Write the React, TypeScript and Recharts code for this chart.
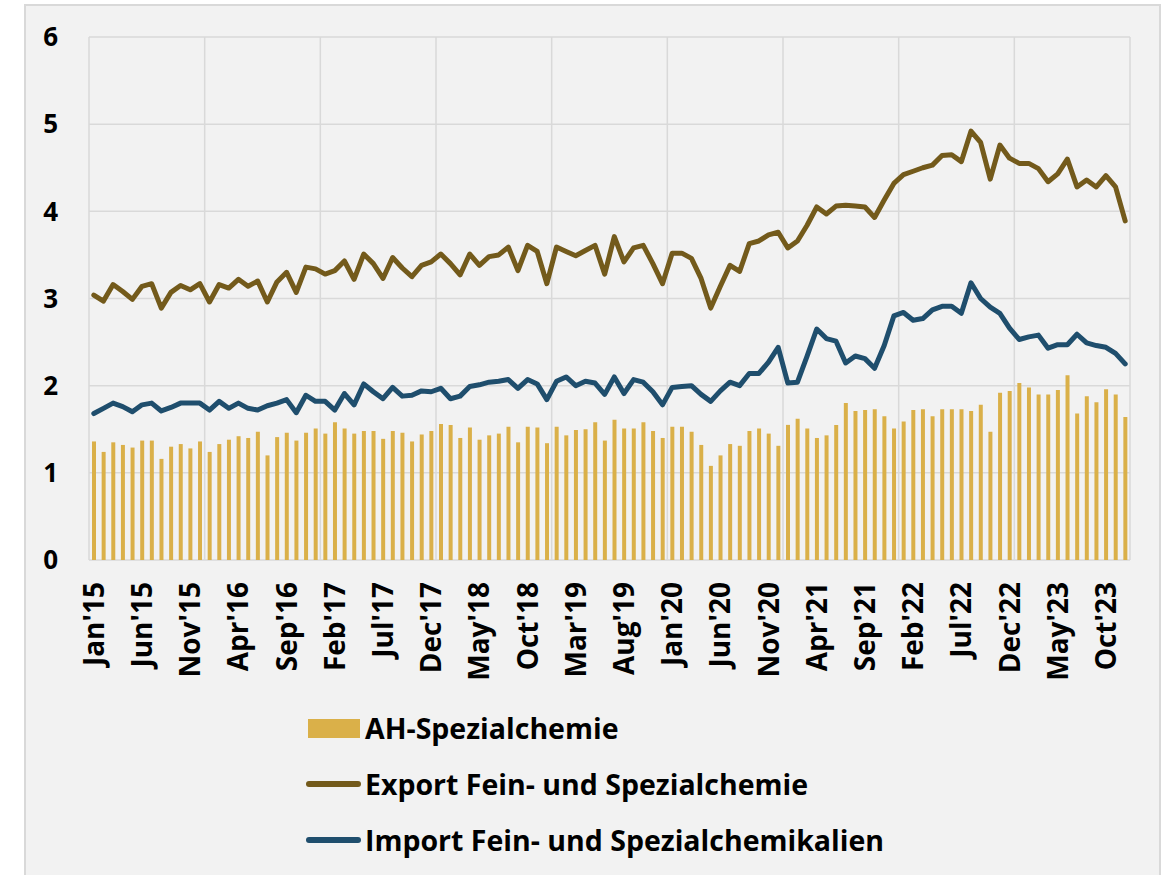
import React from 'react';
import {
  ComposedChart, Bar, Line, XAxis, YAxis, CartesianGrid,
} from 'recharts';

const MONTHS = ['Jan', 'Feb', 'Mar', 'Apr', 'May', 'Jun', 'Jul', 'Aug', 'Sep', 'Oct', 'Nov', 'Dec'];
const YEARS = ['15', '16', '17', '18', '19', '20', '21', '22', '23'];
const Y_TICKS = [0, 1, 2, 3, 4, 5, 6];
const YEAR_GRID = [0, 12, 24, 36, 48, 60, 72, 84, 96, 108];

const AH_SPEZIAL = [
  1.36, 1.24, 1.35, 1.32, 1.29, 1.37, 1.37, 1.16, 1.30, 1.33, 1.28, 1.36,
  1.24, 1.33, 1.38, 1.42, 1.40, 1.47, 1.20, 1.41, 1.46, 1.37, 1.46, 1.51,
  1.45, 1.58, 1.51, 1.45, 1.48, 1.48, 1.39, 1.48, 1.46, 1.36, 1.44, 1.48,
  1.56, 1.55, 1.40, 1.52, 1.38, 1.43, 1.45, 1.53, 1.35, 1.53, 1.52, 1.34,
  1.53, 1.43, 1.49, 1.50, 1.58, 1.37, 1.61, 1.51, 1.51, 1.58, 1.48, 1.40,
  1.53, 1.53, 1.47, 1.32, 1.08, 1.20, 1.33, 1.31, 1.48, 1.51, 1.45, 1.31,
  1.55, 1.62, 1.51, 1.40, 1.43, 1.55, 1.80, 1.71, 1.72, 1.73, 1.65, 1.51,
  1.59, 1.72, 1.73, 1.65, 1.73, 1.73, 1.73, 1.71, 1.78, 1.47, 1.92, 1.94,
  2.03, 1.98, 1.90, 1.90, 1.95, 2.12, 1.68, 1.88, 1.81, 1.96, 1.90, 1.64,
];

const EXPORT_FEIN = [
  3.04, 2.97, 3.16, 3.08, 2.99, 3.14, 3.17, 2.89, 3.07, 3.15, 3.10, 3.17,
  2.96, 3.16, 3.12, 3.22, 3.14, 3.20, 2.96, 3.19, 3.30, 3.07, 3.36, 3.34,
  3.28, 3.32, 3.43, 3.22, 3.51, 3.40, 3.23, 3.47, 3.35, 3.25, 3.38, 3.42,
  3.51, 3.40, 3.27, 3.51, 3.38, 3.48, 3.50, 3.59, 3.32, 3.61, 3.54, 3.17,
  3.59, 3.54, 3.49, 3.55, 3.61, 3.28, 3.71, 3.42, 3.58, 3.61, 3.40, 3.17,
  3.52, 3.52, 3.46, 3.23, 2.89, 3.14, 3.38, 3.31, 3.63, 3.66, 3.73, 3.76,
  3.58, 3.66, 3.84, 4.05, 3.97, 4.06, 4.07, 4.06, 4.05, 3.93, 4.13, 4.32,
  4.42, 4.46, 4.50, 4.53, 4.64, 4.65, 4.57, 4.92, 4.79, 4.37, 4.76, 4.61,
  4.55, 4.55, 4.49, 4.34, 4.43, 4.60, 4.28, 4.36, 4.28, 4.41, 4.28, 3.89,
];

const IMPORT_FEIN = [
  1.68, 1.74, 1.80, 1.76, 1.70, 1.78, 1.80, 1.71, 1.75, 1.80, 1.80, 1.80,
  1.72, 1.82, 1.74, 1.80, 1.74, 1.72, 1.77, 1.80, 1.84, 1.69, 1.89, 1.82,
  1.82, 1.72, 1.91, 1.78, 2.02, 1.93, 1.85, 1.98, 1.88, 1.89, 1.94, 1.93,
  1.97, 1.85, 1.88, 1.99, 2.01, 2.04, 2.05, 2.07, 1.97, 2.07, 2.02, 1.84,
  2.05, 2.10, 2.00, 2.05, 2.03, 1.90, 2.10, 1.91, 2.07, 2.04, 1.93, 1.78,
  1.98, 1.99, 2.00, 1.90, 1.82, 1.94, 2.04, 2.00, 2.14, 2.14, 2.27, 2.44,
  2.03, 2.04, 2.34, 2.65, 2.54, 2.51, 2.26, 2.34, 2.31, 2.20, 2.46, 2.80,
  2.84, 2.75, 2.77, 2.87, 2.91, 2.91, 2.83, 3.18, 3.00, 2.90, 2.83, 2.66,
  2.53, 2.56, 2.58, 2.43, 2.47, 2.47, 2.59, 2.49, 2.46, 2.44, 2.37, 2.25,
];

const LABELS = YEARS.flatMap((y) => MONTHS.map((m) => `${m}'${y}`));

const data = LABELS.map((label, i) => ({
  label,
  idx: i,
  ah: AH_SPEZIAL[i],
  exp: EXPORT_FEIN[i],
  imp: IMPORT_FEIN[i],
}));

const FONT = "'Source Sans Pro', 'Open Sans', sans-serif";
const C_BAR = '#dab049';
const C_EXP = '#735a1b';
const C_IMP = '#1f4e6d';

const MonthTick = ({ x, y, payload }: { x?: number; y?: number; payload?: { value: string } }) => (
  <text
    x={x}
    y={y}
    transform={`rotate(-90, ${x}, ${y})`}
    textAnchor="end"
    dy="0.36em"
    fontFamily={FONT}
    fontWeight={700}
    fontSize={28}
    fill="#000"
  >
    {payload?.value}
  </text>
);

const legendItems = [
  { name: 'AH-Spezialchemie', color: C_BAR, kind: 'bar' },
  { name: 'Export Fein- und Spezialchemie', color: C_EXP, kind: 'line' },
  { name: 'Import Fein- und Spezialchemikalien', color: C_IMP, kind: 'line' },
];

const ChartLegend = () => (
  <div style={{ fontFamily: FONT, fontWeight: 700, fontSize: 28.5, color: '#000', lineHeight: 1 }}>
    {legendItems.map((it) => (
      <div key={it.name} style={{ display: 'flex', alignItems: 'center', height: 56 }}>
        <div style={{ width: 59, display: 'flex', alignItems: 'center' }}>
          {it.kind === 'bar' ? (
            <div style={{ width: 52, height: 19, background: it.color, marginLeft: 2 }} />
          ) : (
            <div style={{ width: 55, height: 6, borderRadius: 3, background: it.color }} />
          )}
        </div>
        <span>{it.name}</span>
      </div>
    ))}
  </div>
);

export default function App() {
  return (
    <div style={{ position: 'absolute', left: 0, top: 0, width: 1166, height: 875, background: '#fff', overflow: 'hidden' }}>
      <div
        style={{
          position: 'absolute', left: 24, top: 4, width: 1133, height: 900,
          background: '#f2f2f2', border: '2px solid #d9d9d9',
        }}
      />
      <div style={{ position: 'absolute', left: 0, top: 0 }}>
        <ComposedChart
          width={1166}
          height={700}
          data={data}
          barSize={4}
          margin={{ top: 37, right: 36, left: 0, bottom: 20 }}
        >
          <CartesianGrid stroke="#d9d9d9" strokeWidth={1.5} xAxisId="grid" />
          <XAxis
            dataKey="label"
            interval={4}
            tickLine={false}
            axisLine={false}
            tickSize={0}
            tickMargin={22}
            height={120}
            tick={<MonthTick />}
          />
          <XAxis xAxisId="grid" dataKey="idx" type="number" domain={[0, 108]} ticks={YEAR_GRID} hide />
          <YAxis
            domain={[0, 6]}
            ticks={Y_TICKS}
            width={89}
            tickLine={false}
            axisLine={false}
            tickSize={6}
            tickMargin={25}
            tick={{ fontFamily: FONT, fontWeight: 700, fontSize: 26, fill: '#000' }}
          />
          <Bar dataKey="ah" name="AH-Spezialchemie" fill={C_BAR} isAnimationActive={false} />
          <Line
            type="linear"
            dataKey="exp"
            name="Export Fein- und Spezialchemie"
            stroke={C_EXP}
            strokeWidth={5}
            strokeLinejoin="round"
            strokeLinecap="round"
            dot={false}
            activeDot={false}
            isAnimationActive={false}
          />
          <Line
            type="linear"
            dataKey="imp"
            name="Import Fein- und Spezialchemikalien"
            stroke={C_IMP}
            strokeWidth={5}
            strokeLinejoin="round"
            strokeLinecap="round"
            dot={false}
            activeDot={false}
            isAnimationActive={false}
          />
        </ComposedChart>
      </div>
      <div style={{ position: 'absolute', left: 306, top: 700 }}>
        <ChartLegend />
      </div>
    </div>
  );
}
